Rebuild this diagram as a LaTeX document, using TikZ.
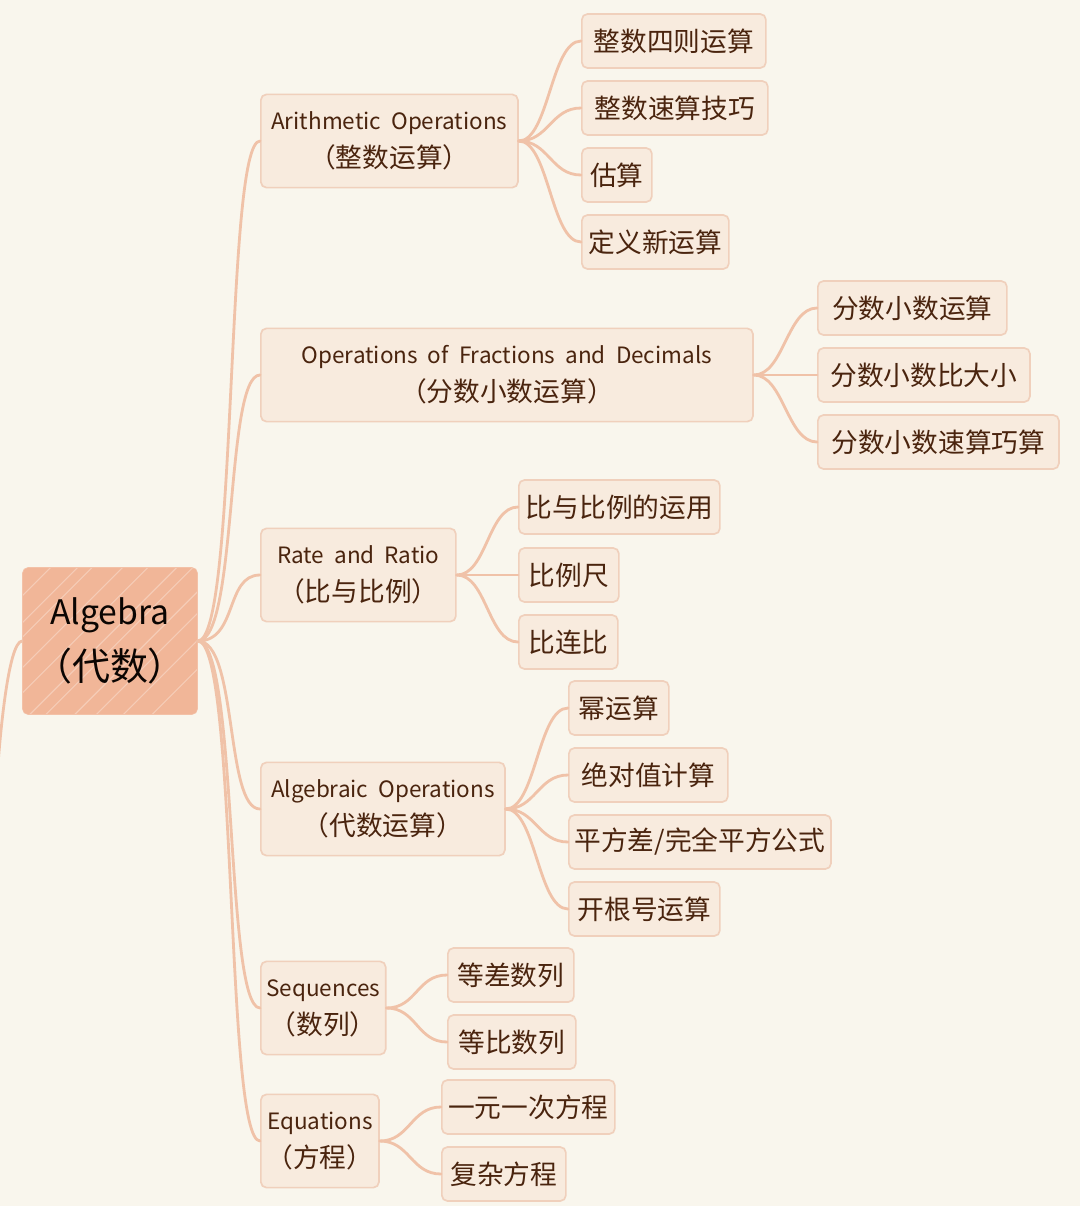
\documentclass[tikz,border=0pt]{standalone}
\usepackage{fontspec}
\setmainfont{Noto Sans CJK SC}
\definecolor{paper}{RGB}{249,246,237}
\definecolor{boxfill}{RGB}{248,235,222}
\definecolor{boxedge}{RGB}{240,208,188}
\definecolor{rootfill}{RGB}{241,182,152}
\definecolor{wire}{RGB}{240,194,168}
\definecolor{ink}{RGB}{74,36,14}
\newcommand{\cjkline}[1]{{\fontsize{19}{27}\selectfont #1}}
\tikzset{x=0.025cm, y=-0.025cm,
root/.style={ % the central topic
rectangle, rounded corners=4pt,
fill=rootfill, draw=rootfill!85!white,
text={black!85!ink}, align=center,
font=\fontsize{24}{40}\selectfont,
path picture={
\foreach \k in {-8,-6.6,-5.1,-4.3,-2.6,-1.2,0.4,1.3,2.9,4.1,5.6,7.2}
\draw[white, opacity=0.3, line width=0.8pt]
([xshift=\k*0.45cm]path picture bounding box.south west) -- ++(4.2cm,4.2cm);}},
topic/.style={ % first level boxes
rectangle, rounded corners=4pt, anchor=west,
fill=boxfill, draw=boxedge, line width=1.2pt,
text=ink, align=center, inner xsep=4pt,
minimum height=2.33cm,
font=\fontsize{16}{27}\selectfont},
leaf/.style={ % second level boxes
rectangle, rounded corners=4pt, anchor=west,
fill=boxfill, draw=boxedge, line width=1.2pt,
text=ink, inner xsep=4pt,
minimum height=1.35cm,
font=\fontsize{19}{22}\selectfont},
branch/.style={draw=wire, line width=2pt, line cap=round}}
\begin{document}
\begin{tikzpicture}
\fill[paper] (0,0) rectangle (1080,1206);
\useasboundingbox (0,0) rectangle (1080,1206);

% centre and its first level
\node[root, minimum width=4.375cm, minimum height=3.675cm] (alg) at (110,641) {Algebra\\{\fontsize{27}{40}\selectfont（代数）}};
\coordinate (up) at (-6,830);
\node[topic, minimum width=6.425cm] (arith) at (260,141) {Arithmetic\ \ Operations\\\cjkline{（整数运算）}};
\node[topic, minimum width=12.3cm] (frac) at (260,375) {Operations\ \ of\ \ Fractions\ \ and\ \ Decimals\\\cjkline{（分数小数运算）}};
\node[topic, minimum width=4.875cm] (ratio) at (260,575) {Rate\ \ and\ \ Ratio\\\cjkline{（比与比例）}};
\node[topic, minimum width=6.1cm] (algop) at (260,809) {Algebraic\ \ Operations\\\cjkline{（代数运算）}};
\node[topic, minimum width=3.075cm] (seq) at (260,1008) {Sequences\\\cjkline{（数列）}};
\node[topic, minimum width=2.925cm] (equ) at (260,1141) {Equations\\\cjkline{（方程）}};

% second level
\node[leaf, minimum width=4.6cm] (a1) at (581,41) {整数四则运算};
\node[leaf, minimum width=4.65cm] (a2) at (581,108) {整数速算技巧};
\node[leaf, minimum width=1.75cm] (a3) at (581,175) {估算};
\node[leaf, minimum width=3.675cm] (a4) at (581,242) {定义新运算};
\node[leaf, minimum width=4.725cm] (f1) at (817,308) {分数小数运算};
\node[leaf, minimum width=5.3cm] (f2) at (817,375) {分数小数比大小};
\node[leaf, minimum width=6.025cm] (f3) at (817,442) {分数小数速算巧算};
\node[leaf, minimum width=5.025cm] (r1) at (518,507) {比与比例的运用};
\node[leaf, minimum width=2.5cm] (r2) at (518,575) {比例尺};
\node[leaf, minimum width=2.475cm] (r3) at (518,642) {比连比};
\node[leaf, minimum width=2.5cm] (o1) at (568,708) {幂运算};
\node[leaf, minimum width=3.975cm] (o2) at (568,775) {绝对值计算};
\node[leaf, minimum width=6.55cm] (o3) at (568,842) {平方差/完全平方公式};
\node[leaf, minimum width=3.775cm] (o4) at (568,909) {开根号运算};
\node[leaf, minimum width=3.15cm] (s1) at (447,975) {等差数列};
\node[leaf, minimum width=3.2cm] (s2) at (447,1042) {等比数列};
\node[leaf, minimum width=4.325cm] (e1) at (441,1107) {一元一次方程};
\node[leaf, minimum width=3.1cm] (e2) at (441,1174) {复杂方程};

% connectors
\draw[branch] (alg.west) .. controls +(-14,0) and +(4,-90) .. (up);
\foreach \t in {arith,frac,ratio,algop,seq,equ}
\draw[branch] (alg.east) .. controls +(40,0) and +(-35,0) .. (\t.west);
\foreach \p/\c in {arith/a1,arith/a2,arith/a3,arith/a4,frac/f1,frac/f2,frac/f3,
ratio/r1,ratio/r2,ratio/r3,algop/o1,algop/o2,algop/o3,algop/o4,
seq/s1,seq/s2,equ/e1,equ/e2}
\draw[branch] (\p.east) .. controls +(30,0) and +(-30,0) .. (\c.west);
\end{tikzpicture}
\end{document}
